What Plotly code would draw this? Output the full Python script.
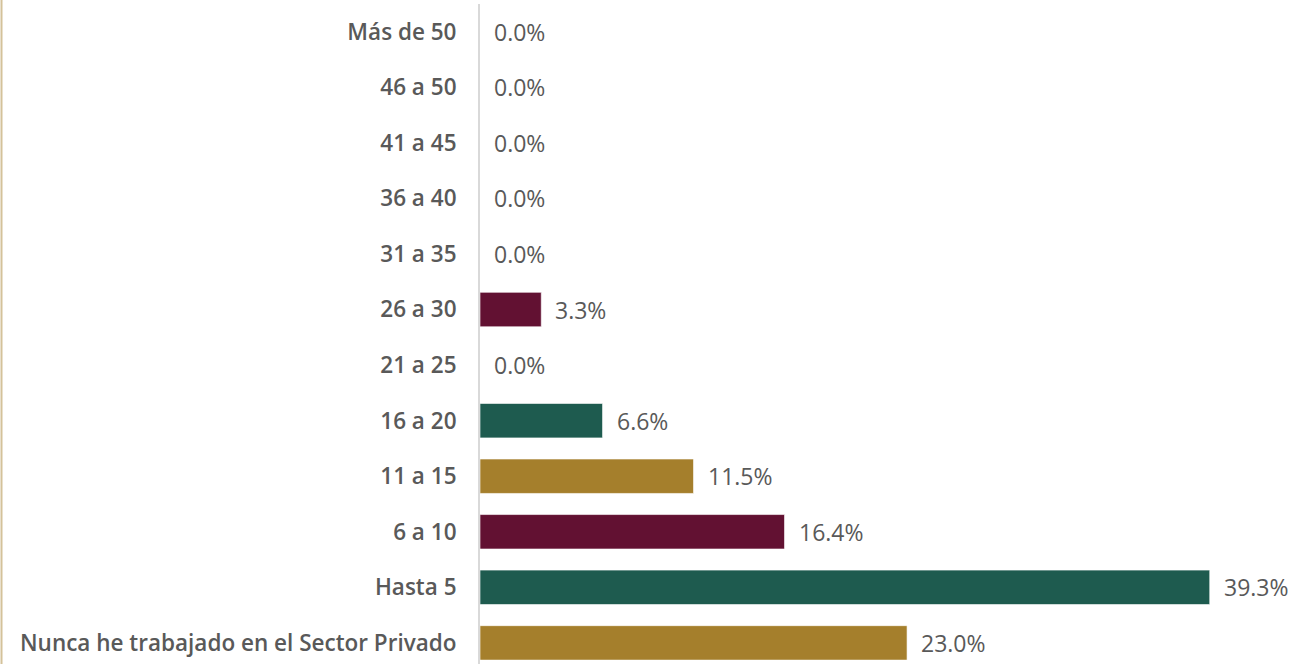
import plotly.graph_objects as go

categories = ["Nunca he trabajado en el Sector Privado", "Hasta 5", "6 a 10", "11 a 15",
              "16 a 20", "21 a 25", "26 a 30", "31 a 35", "36 a 40", "41 a 45",
              "46 a 50", "Más de 50"]
values = [23.0, 39.3, 16.4, 11.5, 6.6, 0.0, 3.3, 0.0, 0.0, 0.0, 0.0, 0.0]
colors = ["#A57F2C", "#1E5B4F", "#621132", "#A57F2C", "#1E5B4F", "#A57F2C",
          "#621132", "#1E5B4F", "#A57F2C", "#621132", "#1E5B4F", "#A57F2C"]
labels = [f"{v:.1f}%" for v in values]

pos = list(range(len(categories)))

fig = go.Figure()
fig.add_trace(go.Bar(
    y=pos, x=values, orientation="h",
    marker=dict(color=colors, line=dict(color="rgba(255,255,255,0.6)", width=1)),
    width=0.62, hoverinfo="skip",
))

for p, v, t in zip(pos, values, labels):
    fig.add_annotation(x=v, y=p, text=t, showarrow=False, xanchor="left",
                       yanchor="middle", xshift=12,
                       font=dict(family="Open Sans", size=23, color="#595959"))

fig.add_shape(type="line", xref="paper", yref="paper",
              x0=-480/817 + 1.5/817, x1=-480/817 + 1.5/817, y0=-0.01, y1=1.01,
              line=dict(color="#D4C29A", width=2))

fig.update_layout(
    width=1297, height=664,
    margin=dict(l=480, r=0, t=4, b=0),
    paper_bgcolor="white", plot_bgcolor="white",
    showlegend=False,
    xaxis=dict(range=[0, 44], visible=False, fixedrange=True),
    yaxis=dict(range=[-0.38, 11.5], tickmode="array", tickvals=pos, ticktext=categories,
               showline=True, linecolor="#D9D9D9", linewidth=2, showgrid=False,
               zeroline=False, ticks="", ticklabelstandoff=17, fixedrange=True,
               tickfont=dict(family="Open Sans", size=22.5, color="#595959", weight=600)),
)

fig.write_html("out.html", config={"displayModeBar": False, "staticPlot": True},
               post_script="document.body.style.margin='0';document.body.style.overflow='hidden';")
